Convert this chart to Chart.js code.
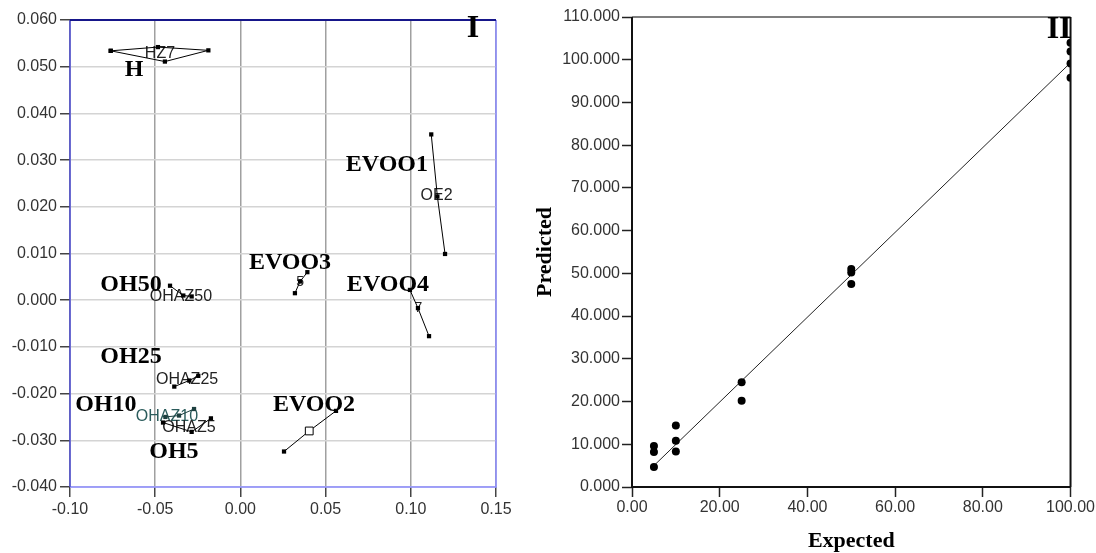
<!DOCTYPE html>
<html>
<head>
<meta charset="utf-8">
<script src="https://cdn.jsdelivr.net/npm/chart.js@4.4.1/dist/chart.umd.min.js"></script>
<style>
body{margin:0;background:#fff;}
#wrap{position:relative;width:1096px;height:553px;}
#c1{position:absolute;left:0;top:0;}
#c2{position:absolute;left:520px;top:0;}
</style>
</head>
<body>
<div id="wrap">
<canvas id="c1" width="520" height="553"></canvas>
<canvas id="c2" width="576" height="553"></canvas>
</div>
<script>
// ---- panel I : group scores ----
var xTicks1 = ['-0.10','-0.05','0.00','0.05','0.10','0.15'];
var yTicks1 = ['-0.040','-0.030','-0.020','-0.010','0.000','0.010','0.020','0.030','0.040','0.050','0.060'];

var hX = [-0.0761, -0.0484, -0.0188, -0.0443, -0.0761];
var hY = [0.0534, 0.0542, 0.0535, 0.0511, 0.0534];
var evoo1X = [0.1120, 0.1156, 0.1201];
var evoo1Y = [0.0355, 0.0222, 0.0099];
var evoo2X = [0.0256, 0.0404, 0.0561];
var evoo2Y = [-0.0324, -0.0280, -0.0237];
var evoo3X = [0.0320, 0.0350, 0.0393];
var evoo3Y = [0.0015, 0.0040, 0.0060];
var evoo4X = [0.0995, 0.1042, 0.1107];
var evoo4Y = [0.0022, -0.0017, -0.0077];
var oh50X = [-0.0413, -0.0335, -0.0286];
var oh50Y = [0.0031, 0.0010, 0.0008];
var oh25X = [-0.0388, -0.0300, -0.0247];
var oh25Y = [-0.0185, -0.0172, -0.0162];
var oh10X = [-0.0440, -0.0360, -0.0272];
var oh10Y = [-0.0250, -0.0247, -0.0233];
var oh5X = [-0.0454, -0.0286, -0.0173];
var oh5Y = [-0.0262, -0.0282, -0.0253];

var groupNames = ['H','EVOO1','EVOO2','EVOO3','EVOO4','OH50','OH25','OH10','OH5'];
var groupLabelX = [-0.0624, 0.0860, 0.0432, 0.0291, 0.0866, -0.0642, -0.0642, -0.0789, -0.0390];
var groupLabelY = [0.0493, 0.0290, -0.0224, 0.0080, 0.0033, 0.0033, -0.0122, -0.0224, -0.0325];

var centroidText = ['HZ7','OE2','5','7','OHAZ50','OHAZ25','OHAZ10','OHAZ5'];
var centroidX = [-0.0472, 0.1151, 0.0350, 0.1044, -0.0349, -0.0313, -0.0431, -0.0302];
var centroidY = [0.0529, 0.0223, 0.0039, -0.0017, 0.0007, -0.0169, -0.0250, -0.0272];
var centroidColor = ['#222','#222','#222','#222','#222','#222','#2b5c5c','#222'];

// ---- panel II : expected vs predicted ----
var xTicks2 = ['0.00','20.00','40.00','60.00','80.00','100.00'];
var yTicks2 = ['0.000','10.000','20.000','30.000','40.000','50.000','60.000','70.000','80.000','90.000','100.000','110.000'];
var expected = [5, 5, 5, 10, 10, 10, 25, 25, 50, 50, 50, 100, 100, 100, 100];
var predicted = [4.7, 8.2, 9.6, 14.4, 10.8, 8.3, 24.5, 20.2, 51.0, 50.2, 47.5, 104.0, 101.9, 99.1, 95.8];
var fitX = [5, 100];
var fitY = [5.0, 99.3];

function pts(xs, ys) {
	var out = [];
	for (var i = 0; i < xs.length; i++) out.push({x: xs[i], y: ys[i]});
	return out;
}

function tickLab(list, min, step) {
	return function(v) {
		var i = Math.round((v - min) / step);
		return list[i] !== undefined ? list[i] : '';
	};
}

function grpSet(xs, ys, extra) {
	var ds = {
		data: pts(xs, ys),
		showLine: true,
		borderColor: '#000',
		borderWidth: 1,
		pointStyle: 'rect',
		pointRadius: 3,
		pointBackgroundColor: '#000',
		pointBorderColor: '#000',
		pointBorderWidth: 0,
		clip: false
	};
	if (extra) for (var k in extra) ds[k] = extra[k];
	return ds;
}

var tickFont = {family: '"Liberation Sans", Arial, sans-serif', size: 16};

var labels1 = {
	id: 'labels1',
	beforeDatasetsDraw: function(chart) {
		var ctx = chart.ctx, xs = chart.scales.x, ys = chart.scales.y;
		ctx.save();
		ctx.textAlign = 'center';
		ctx.textBaseline = 'middle';
		for (var i = 0; i < centroidText.length; i++) {
			ctx.font = (centroidText[i].length == 1 ? '14px' : '16px') + ' "Liberation Sans", Arial, sans-serif';
			ctx.fillStyle = centroidColor[i];
			ctx.fillText(centroidText[i], xs.getPixelForValue(centroidX[i]), ys.getPixelForValue(centroidY[i]));
		}
		ctx.restore();
	},
	afterDraw: function(chart) {
		var ctx = chart.ctx, xs = chart.scales.x, ys = chart.scales.y, a = chart.chartArea;
		ctx.save();
		// frame
		ctx.lineWidth = 1.5;
		ctx.strokeStyle = '#8a8aff';
		ctx.beginPath();
		ctx.moveTo(a.right, a.top); ctx.lineTo(a.right, a.bottom); ctx.lineTo(a.left, a.bottom);
		ctx.stroke();
		ctx.strokeStyle = '#4a4ad2';
		ctx.beginPath();
		ctx.moveTo(a.left, a.bottom); ctx.lineTo(a.left, a.top);
		ctx.stroke();
		ctx.lineWidth = 2;
		ctx.strokeStyle = '#16168a';
		ctx.beginPath();
		ctx.moveTo(a.left, a.top); ctx.lineTo(a.right, a.top);
		ctx.stroke();
		// group names
		ctx.fillStyle = '#000';
		ctx.textAlign = 'center';
		ctx.textBaseline = 'middle';
		ctx.font = 'bold 24px "Liberation Serif", "Times New Roman", serif';
		for (var i = 0; i < groupNames.length; i++) {
			ctx.fillText(groupNames[i], xs.getPixelForValue(groupLabelX[i]), ys.getPixelForValue(groupLabelY[i]));
		}
		ctx.textBaseline = 'alphabetic';
		ctx.font = 'bold 32px "Liberation Serif", "Times New Roman", serif';
		ctx.fillText('I', a.right - 23, a.top + 17);
		ctx.restore();
	}
};

new Chart(document.getElementById('c1').getContext('2d'), {
	type: 'scatter',
	data: {
		datasets: [
			grpSet(hX, hY),
			grpSet(evoo1X, evoo1Y),
			grpSet(evoo2X, evoo2Y, {pointRadius: [3, 5.5, 3], pointBackgroundColor: ['#000', '#fff', '#000'], pointBorderWidth: [0, 1, 0]}),
			grpSet(evoo3X, evoo3Y),
			grpSet(evoo4X, evoo4Y),
			grpSet(oh50X, oh50Y),
			grpSet(oh25X, oh25Y),
			grpSet(oh10X, oh10Y, {borderColor: '#1d3f3f', pointBackgroundColor: '#1d3f3f'}),
			grpSet(oh5X, oh5Y)
		]
	},
	options: {
		responsive: false,
		animation: false,
		layout: {padding: {top: 20, right: 24, left: 0, bottom: 0}},
		plugins: {legend: {display: false}, tooltip: {enabled: false}},
		scales: {
			x: {
				type: 'linear', min: -0.10, max: 0.15,
				afterFit: function(s) { s.height = 66; },
				grid: {color: '#a0a0a0', lineWidth: 1.5, tickColor: '#444', tickLength: 10},
				border: {display: false},
				ticks: {stepSize: 0.05, padding: 3, color: '#333', font: tickFont, maxRotation: 0,
					callback: tickLab(xTicks1, -0.10, 0.05)}
			},
			y: {
				type: 'linear', min: -0.040, max: 0.060,
				afterFit: function(s) { s.width = 70; },
				grid: {color: '#d4d4d4', lineWidth: 1.5, tickColor: '#444', tickLength: 10},
				border: {display: false},
				ticks: {stepSize: 0.01, padding: 3, color: '#333', font: tickFont,
					callback: tickLab(yTicks1, -0.040, 0.01)}
			}
		}
	},
	plugins: [labels1]
});

var frame2 = {
	id: 'frame2',
	afterDraw: function(chart) {
		var ctx = chart.ctx, a = chart.chartArea;
		ctx.save();
		ctx.lineWidth = 1.5;
		ctx.strokeStyle = '#555';
		ctx.beginPath();
		ctx.moveTo(a.left, a.top); ctx.lineTo(a.right, a.top);
		ctx.stroke();
		ctx.lineWidth = 2;
		ctx.strokeStyle = '#111';
		ctx.beginPath();
		ctx.moveTo(a.right, a.top); ctx.lineTo(a.right, a.bottom);
		ctx.moveTo(a.left, a.top); ctx.lineTo(a.left, a.bottom); ctx.lineTo(a.right, a.bottom);
		ctx.stroke();
		ctx.fillStyle = '#000';
		ctx.textAlign = 'right';
		ctx.textBaseline = 'alphabetic';
		ctx.font = 'bold 32px "Liberation Serif", "Times New Roman", serif';
		ctx.fillText('II', a.right + 1, a.top + 21);
		ctx.restore();
	}
};

var titleFont = {family: '"Liberation Serif", "Times New Roman", serif', size: 22, weight: 'bold', lineHeight: 1};

new Chart(document.getElementById('c2').getContext('2d'), {
	type: 'scatter',
	data: {
		datasets: [
			{
				data: pts(expected, predicted),
				pointRadius: 4,
				pointBackgroundColor: '#000',
				pointBorderWidth: 0,
				showLine: false,
				clip: 0
			},
			{
				data: pts(fitX, fitY),
				showLine: true,
				borderColor: '#222',
				borderWidth: 1,
				pointRadius: 0
			}
		]
	},
	options: {
		responsive: false,
		animation: false,
		layout: {padding: {top: 17, right: 24, left: 0, bottom: 0}},
		plugins: {legend: {display: false}, tooltip: {enabled: false}},
		scales: {
			x: {
				type: 'linear', min: 0, max: 100,
				afterFit: function(s) { s.height = 66; },
				grid: {drawOnChartArea: false, tickColor: '#222', tickWidth: 1.5, tickLength: 10},
				border: {display: false},
				title: {display: true, text: 'Expected', color: '#000', font: titleFont, padding: {top: 0, bottom: 1}},
				ticks: {stepSize: 20, padding: 1, color: '#333', font: tickFont, maxRotation: 0,
					callback: tickLab(xTicks2, 0, 20)}
			},
			y: {
				type: 'linear', min: 0, max: 110,
				afterFit: function(s) { s.width = 112; },
				grid: {drawOnChartArea: false, tickColor: '#222', tickWidth: 1.5, tickLength: 10},
				border: {display: false},
				title: {display: true, text: 'Predicted', color: '#000', font: titleFont, padding: {top: 14, bottom: 0}},
				ticks: {stepSize: 10, padding: 2, color: '#333', font: tickFont,
					callback: tickLab(yTicks2, 0, 10)}
			}
		}
	},
	plugins: [frame2]
});
</script>
</body>
</html>
